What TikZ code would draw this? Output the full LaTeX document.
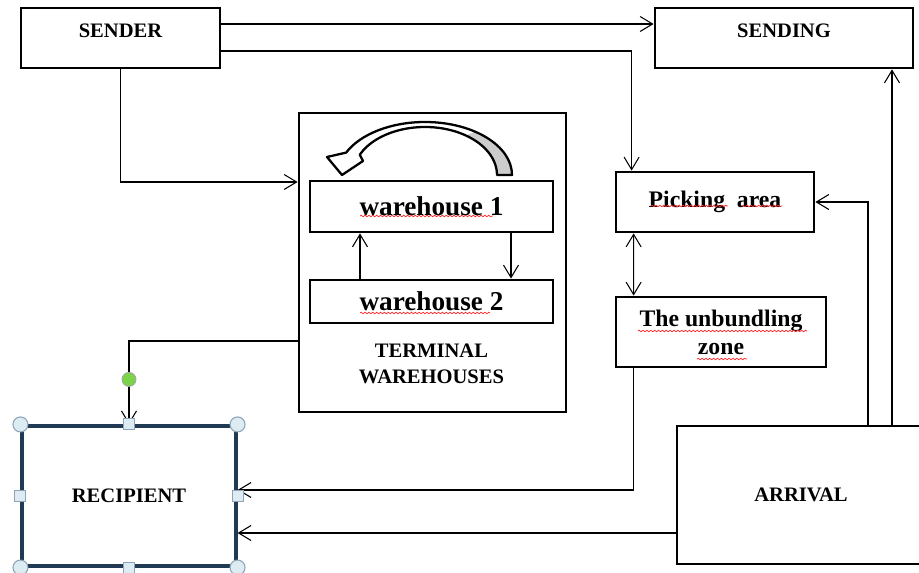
\documentclass[tikz,border=0pt]{standalone}
\usepackage{fontspec}
\setmainfont{Liberation Serif}
\usetikzlibrary{calc,positioning,arrows.meta,decorations.pathmorphing}
\definecolor{recline}{HTML}{1F3A52}
\definecolor{handlefill}{HTML}{DDEBF2}
\definecolor{handleline}{HTML}{8DA4B6}
\definecolor{knobgreen}{HTML}{7CD34A}
\tikzset{Box/.style 2 args={draw,line width=1.6pt,inner sep=0pt,align=center,minimum width=#1,minimum height=#2},
    Cap/.style={font=\bfseries\fontsize{11.7}{15}\selectfont,inner sep=0pt,align=center},
    Word/.style={font=\bfseries\fontsize{13.5}{16}\selectfont},
    Link/.style={line width=0.6pt},
    Spell/.style={red!85,line width=0.4pt,decorate,decoration={snake,amplitude=0.45pt,segment length=2.2pt}},
    Handle/.style={circle,draw=handleline,fill=handlefill,line width=0.6pt,minimum size=0.3cm,inner sep=0pt},
    Grip/.style={rectangle,draw=handleline,fill=handlefill,line width=0.6pt,minimum size=0.22cm,inner sep=0pt},
    Knob/.style={circle,draw=gray!70,fill=knobgreen,line width=0.5pt,minimum size=0.28cm,inner sep=0pt}}

\begin{document}
\begin{tikzpicture}[x=0.02cm,y=0.02cm,>={Straight Barb[length=2.5mm,width=3mm]}]
            \useasboundingbox (0,0) rectangle (919,-573);
            \node[Box={3.98cm}{1.2cm},label={[Cap,anchor=north,yshift=-0.34cm]north:SENDER}] (sender) at (120.5,-38) {};
            \node[Box={5.16cm}{1.2cm},label={[Cap,anchor=north,yshift=-0.34cm]north:SENDING}] (sending) at (784,-38) {};
            \node[Box={5.34cm}{5.98cm}] (term) at (432.5,-262.5) {};
            \node[Box={4.86cm}{1.02cm},font=\bfseries\fontsize{15.5}{18}\selectfont] (wh1) at (431.5,-206.5) {warehouse 1};
            \node[Box={4.86cm}{0.86cm},font=\bfseries\fontsize{15.5}{18}\selectfont] (wh2) at (431.5,-301.5) {warehouse 2};
            \node[Cap,below=0.38cm of wh2] (termtxt) {TERMINAL\\WAREHOUSES};
            \node[Box={3.96cm}{1.2cm},Word] (pick) at (715,-202) {Picking~~area};
            \node[Box={4.2cm}{1.4cm},Word] (unb) at (721,-332) {The unbundling\\zone};
            \node[Box={4.96cm}{2.76cm},Cap] (arr) at (801,-495) {ARRIVAL};
            \node[Box={4.28cm}{2.8cm},Cap,draw=recline,line width=1.8pt] (rec) at (129,-496) {RECIPIENT};
            % word's spelling marks
            \draw[Spell] (360,-216) -- (493,-216);
            \draw[Spell] (360,-313) -- (490,-313);
            \draw[Spell] (651,-206) -- (728,-206);
            \draw[Spell] (742,-206) -- (782,-206);
            \draw[Spell] (638,-331) -- (807,-331);
            \draw[Spell] (697,-359) -- (747,-359);
            % turning arrow over warehouse 1
            \fill[gray!40] (512,-175) arc[start angle=0,end angle=55,x radius=87,y radius=53] -- ($(425,-175)+(55:72 and 48)$) arc[start angle=55,end angle=0,x radius=72,y radius=48] -- cycle;
            \draw[line width=1.3pt,line join=round] (512,-175) arc[start angle=0,end angle=155,x radius=87,y radius=53] -- (327,-157) -- (342,-175) -- (363,-161) -- ($(425,-175)+(155:72 and 48)$) arc[start angle=155,end angle=0,x radius=72,y radius=48] -- cycle;
            % connectors
            \draw[Link,->] (sender.east |- 0,-24) -- (sending.west |- 0,-24);
            \draw[Link,->] (sender.east |- 0,-51) -| ($(pick.north west)+(17,0)$);
            \draw[Link,->] (sender.south) |- (term.west |- 0,-182);
            \draw[Link,->] (wh2.north -| 360,0) -- (wh1.south -| 360,0);
            \draw[Link,->] (wh1.south -| 511,0) -- (wh2.north -| 511,0);
            \draw[Link,<->] ($(pick.south west)+(19,0)$) -- ($(unb.north west)+(19,0)$);
            \draw[Link,->] ($(unb.south west)+(19,0)$) |- (rec.east |- 0,-490);
            \draw[Link,->] (arr.west |- 0,-533) -- (rec.east |- 0,-533);
            \draw[Link,->] (arr.north -| 868,0) |- (pick.east);
            \draw[Link,->] (arr.north -| 892,0) -- (sending.south -| 892,0);
            \draw[Link,->] (term.west |- 0,-341) -| (rec.north);
            % selection handles
            \foreach \a/\n in {north west/nw,north east/ne,south west/sw,south east/se}
                \node[Handle] (h\n) at (rec.\a) {};
            \foreach \a/\n in {north/n,south/s,east/e,west/w}
                \node[Grip] (g\n) at (rec.\a) {};
            \node[Knob] (knob) at ([yshift=0.9cm]rec.north) {};
        \end{tikzpicture}
\end{document}
